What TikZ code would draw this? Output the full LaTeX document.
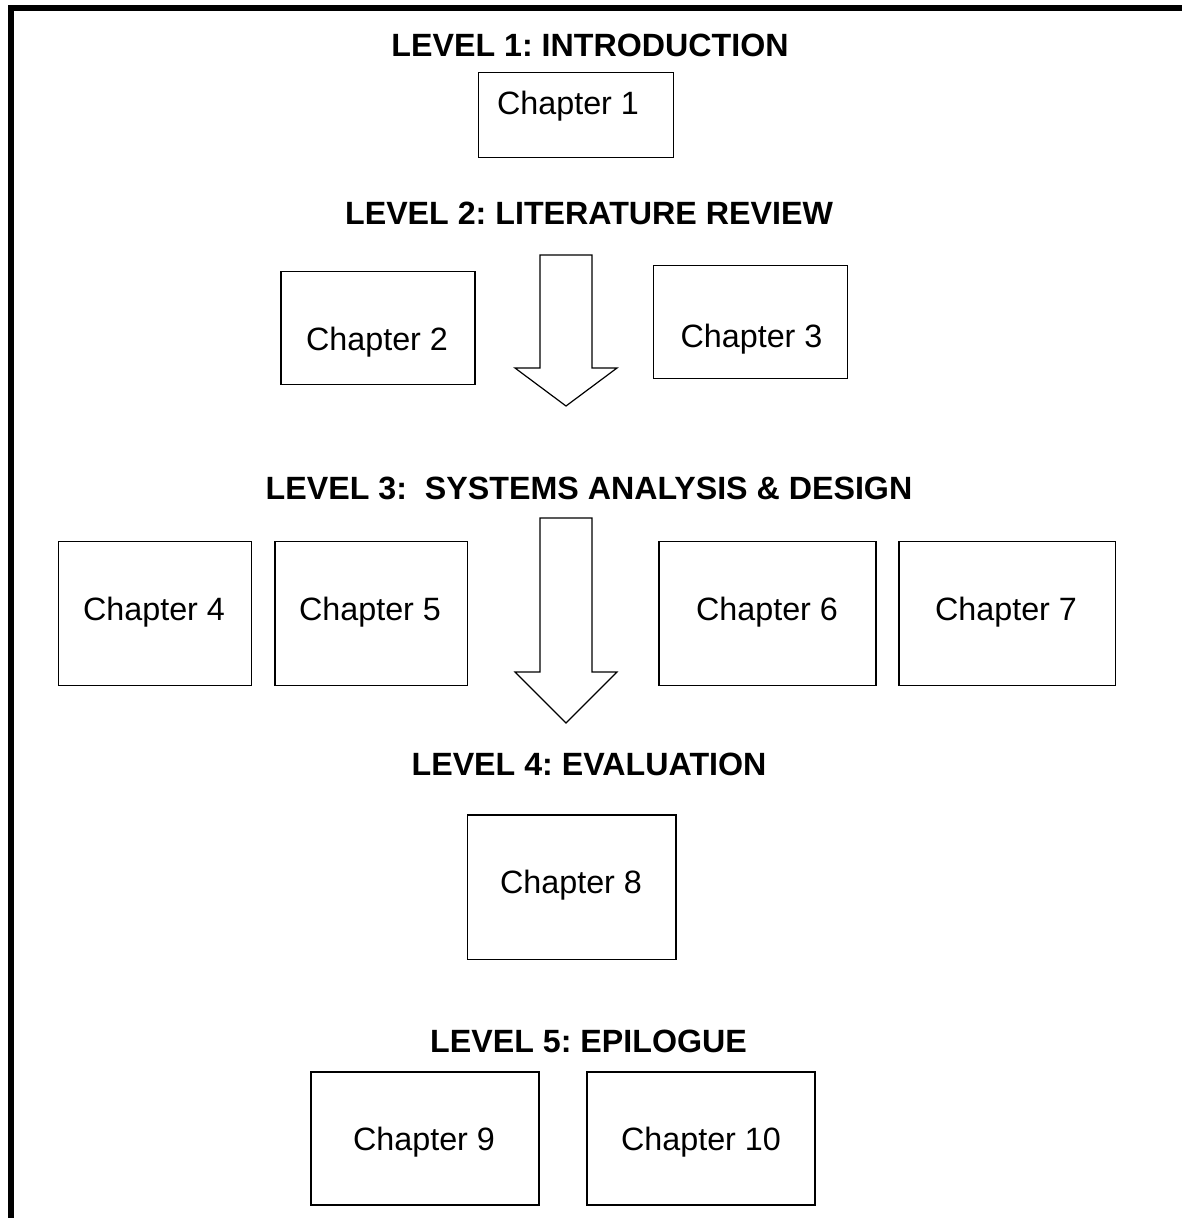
\documentclass[tikz,border=0pt]{standalone}
\usepackage{fontspec}
\setmainfont{Liberation Sans}
\frenchspacing
\begin{document}
\begin{tikzpicture}[x=1pt,y=-1pt,
  chbox/.style={draw=black, line width=1.2pt, fill=white, inner sep=0pt},
  chtext/.style={anchor=base, inner sep=0pt, font=\fontsize{32.3}{39}\selectfont},
  leveltitle/.style={anchor=base, inner sep=0pt, font=\fontsize{32.2}{39}\selectfont\bfseries},
  flowarrow/.style={draw=black, line width=1.2pt, fill=white, line join=miter}]
  \useasboundingbox (0,0) rectangle (1182,1218);
  % frame: top and left edges only
  \draw[line width=6pt, line join=miter] (11,1218) -- (11,8) -- (1182,8);

  % level titles
  \node[leveltitle] (l1) at (590,56.7) {LEVEL 1: INTRODUCTION};
  \node[leveltitle] (l2) at (589,224) {LEVEL 2: LITERATURE REVIEW};
  \node[leveltitle] (l3) at (589,499) {LEVEL 3:\ \ SYSTEMS ANALYSIS \& DESIGN};
  \node[leveltitle] (l4) at (589,775.5) {LEVEL 4: EVALUATION};
  \node[leveltitle] (l5) at (588.5,1052) {LEVEL 5: EPILOGUE};

  % chapter boxes
  \node[chbox, minimum width=195pt, minimum height=84.5pt] (c1) at (575.8,115) {};
  \node[chtext] (t1) at (568,114) {Chapter 1};
  \node[chbox, minimum width=194pt, minimum height=113pt] (c2) at (378,327.7) {};
  \node[chtext] (t2) at (377,350) {Chapter 2};
  \node[chbox, minimum width=194pt, minimum height=112.5pt] (c3) at (750.3,322) {};
  \node[chtext] (t3) at (751.5,347.7) {Chapter 3};
  \node[chbox, minimum width=193pt, minimum height=144pt] (c4) at (155,613.8) {};
  \node[chtext] (t4) at (154,620) {Chapter 4};
  \node[chbox, minimum width=192.5pt, minimum height=144pt] (c5) at (371.3,613.8) {};
  \node[chtext] (t5) at (370,620) {Chapter 5};
  \node[chbox, minimum width=217pt, minimum height=144pt] (c6) at (767.5,613.8) {};
  \node[chtext] (t6) at (767,620) {Chapter 6};
  \node[chbox, minimum width=216.5pt, minimum height=144pt] (c7) at (1007.3,613.8) {};
  \node[chtext] (t7) at (1006,620) {Chapter 7};
  \node[chbox, minimum width=208.7pt, minimum height=144.3pt] (c8) at (571.7,887.2) {};
  \node[chtext] (t8) at (571,893.3) {Chapter 8};
  \node[chbox, minimum width=228pt, minimum height=133pt] (c9) at (425,1138.5) {};
  \node[chtext] (t9) at (424,1150) {Chapter 9};
  \node[chbox, minimum width=228pt, minimum height=133pt] (c10) at (701,1138.5) {};
  \node[chtext] (t10) at (701,1150) {Chapter 10};

  % block arrows between levels
  \draw[flowarrow] (540,255) -- (592,255) -- (592,368) -- (617,368)
    -- (566,406) -- (515,368) -- (540,368) -- cycle;
  \draw[flowarrow] (540,518) -- (592,518) -- (592,672) -- (617,672)
    -- (566,723) -- (515,672) -- (540,672) -- cycle;
\end{tikzpicture}
\end{document}
